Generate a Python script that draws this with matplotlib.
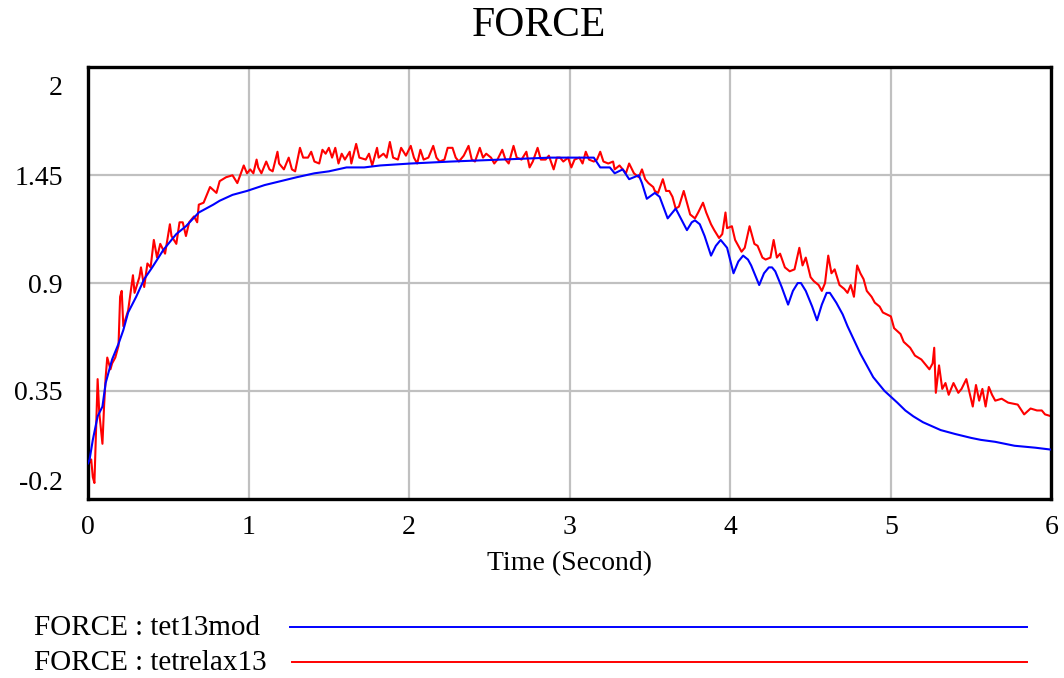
import matplotlib
matplotlib.use("Agg")
import matplotlib.pyplot as plt
import matplotlib.transforms as mtransforms
from matplotlib.lines import Line2D

plt.rcParams['font.family'] = ['Liberation Serif', 'DejaVu Serif']

# FORCE : tet13mod (blue)
mod_t = [0.00, 0.01, 0.03, 0.06, 0.09, 0.11, 0.15, 0.19, 0.22, 0.25, 0.30, 0.35,
         0.40, 0.47, 0.55, 0.61, 0.69, 0.78, 0.82, 0.90, 0.99, 1.10, 1.20, 1.30,
         1.41, 1.50, 1.61, 1.72, 1.82, 2.01, 2.26, 2.57, 2.88, 3.15, 3.19, 3.25,
         3.28, 3.33, 3.37, 3.43, 3.45, 3.48, 3.53, 3.56, 3.61, 3.66, 3.73, 3.76,
         3.78, 3.81, 3.84, 3.88, 3.91, 3.94, 3.98, 4.02, 4.05, 4.08, 4.11, 4.13,
         4.16, 4.18, 4.21, 4.24, 4.26, 4.28, 4.32, 4.36, 4.39, 4.42, 4.44, 4.47,
         4.51, 4.54, 4.57, 4.60, 4.62, 4.66, 4.70, 4.73, 4.77, 4.81, 4.85, 4.89,
         4.93, 4.96, 5.00, 5.04, 5.09, 5.14, 5.20, 5.31, 5.40, 5.50, 5.56, 5.65,
         5.77, 5.90, 6.00]
mod_v = [-0.02, 0.00, 0.10, 0.22, 0.27, 0.39, 0.51, 0.59, 0.66, 0.75, 0.83, 0.92,
         0.98, 1.07, 1.15, 1.19, 1.26, 1.30, 1.32, 1.35, 1.37, 1.40, 1.42, 1.44,
         1.46, 1.47, 1.49, 1.49, 1.50, 1.51, 1.52, 1.53, 1.54, 1.54, 1.49, 1.49,
         1.46, 1.48, 1.43, 1.45, 1.41, 1.33, 1.36, 1.34, 1.23, 1.28, 1.17, 1.21,
         1.22, 1.20, 1.14, 1.04, 1.09, 1.12, 1.08, 0.95, 1.01, 1.04, 1.02, 0.99,
         0.93, 0.89, 0.95, 0.98, 0.98, 0.96, 0.88, 0.79, 0.86, 0.90, 0.90, 0.86,
         0.78, 0.71, 0.79, 0.85, 0.85, 0.80, 0.74, 0.68, 0.61, 0.54, 0.48, 0.42,
         0.38, 0.35, 0.32, 0.29, 0.25, 0.22, 0.19, 0.15, 0.13, 0.11, 0.10, 0.09,
         0.07, 0.06, 0.05]

# FORCE : tetrelax13 (red)
rel_t = [0.00, 0.02, 0.03, 0.04, 0.05, 0.06, 0.07, 0.09, 0.10, 0.11, 0.12, 0.14,
         0.15, 0.17, 0.19, 0.20, 0.21, 0.22, 0.25, 0.27, 0.28, 0.29, 0.32, 0.33,
         0.35, 0.37, 0.39, 0.41, 0.43, 0.45, 0.48, 0.51, 0.52, 0.55, 0.57, 0.59,
         0.61, 0.63, 0.66, 0.68, 0.69, 0.72, 0.76, 0.80, 0.82, 0.86, 0.90, 0.93,
         0.97, 0.99, 1.01, 1.03, 1.05, 1.06, 1.08, 1.11, 1.13, 1.15, 1.18, 1.19,
         1.22, 1.25, 1.27, 1.29, 1.32, 1.34, 1.37, 1.39, 1.41, 1.44, 1.46, 1.48,
         1.50, 1.52, 1.54, 1.56, 1.58, 1.60, 1.63, 1.64, 1.67, 1.69, 1.73, 1.75,
         1.77, 1.80, 1.81, 1.84, 1.86, 1.88, 1.90, 1.93, 1.95, 1.98, 2.01, 2.03,
         2.05, 2.07, 2.09, 2.12, 2.15, 2.17, 2.19, 2.22, 2.24, 2.27, 2.29, 2.31,
         2.34, 2.37, 2.39, 2.41, 2.44, 2.46, 2.48, 2.51, 2.53, 2.55, 2.58, 2.60,
         2.62, 2.65, 2.67, 2.70, 2.73, 2.75, 2.77, 2.80, 2.82, 2.85, 2.87, 2.90,
         2.92, 2.94, 2.96, 2.99, 3.01, 3.03, 3.06, 3.08, 3.10, 3.12, 3.15, 3.17,
         3.19, 3.21, 3.24, 3.27, 3.28, 3.31, 3.33, 3.35, 3.37, 3.40, 3.43, 3.45,
         3.47, 3.49, 3.52, 3.53, 3.55, 3.58, 3.60, 3.62, 3.64, 3.66, 3.68, 3.71,
         3.73, 3.75, 3.78, 3.80, 3.83, 3.85, 3.88, 3.90, 3.93, 3.95, 3.97, 3.98,
         4.01, 4.03, 4.05, 4.07, 4.09, 4.12, 4.15, 4.17, 4.20, 4.22, 4.25, 4.27,
         4.29, 4.31, 4.34, 4.37, 4.40, 4.43, 4.45, 4.47, 4.50, 4.52, 4.55, 4.57,
         4.59, 4.61, 4.63, 4.65, 4.68, 4.71, 4.73, 4.75, 4.77, 4.79, 4.81, 4.83,
         4.85, 4.88, 4.90, 4.93, 4.95, 5.00, 5.02, 5.06, 5.08, 5.12, 5.15, 5.19,
         5.24, 5.26, 5.27, 5.28, 5.30, 5.32, 5.34, 5.36, 5.39, 5.42, 5.44, 5.47,
         5.49, 5.51, 5.53, 5.55, 5.57, 5.59, 5.61, 5.63, 5.65, 5.69, 5.73, 5.79,
         5.83, 5.87, 5.91, 5.94, 5.96, 6.00]
rel_v = [-0.03, 0.00, -0.09, -0.12, 0.15, 0.41, 0.24, 0.08, 0.27, 0.42, 0.52, 0.46,
         0.49, 0.52, 0.58, 0.83, 0.86, 0.68, 0.76, 0.88, 0.94, 0.85, 0.93, 0.98,
         0.88, 1.00, 0.98, 1.12, 1.03, 1.10, 1.05, 1.20, 1.14, 1.10, 1.21, 1.21,
         1.14, 1.21, 1.24, 1.21, 1.30, 1.31, 1.39, 1.36, 1.42, 1.44, 1.45, 1.41,
         1.50, 1.46, 1.48, 1.46, 1.53, 1.49, 1.46, 1.52, 1.48, 1.47, 1.57, 1.51,
         1.48, 1.54, 1.48, 1.47, 1.59, 1.54, 1.54, 1.57, 1.52, 1.51, 1.58, 1.56,
         1.59, 1.54, 1.59, 1.51, 1.56, 1.53, 1.57, 1.51, 1.61, 1.54, 1.53, 1.56,
         1.50, 1.59, 1.54, 1.56, 1.54, 1.62, 1.54, 1.53, 1.59, 1.55, 1.60, 1.54,
         1.51, 1.58, 1.53, 1.54, 1.60, 1.54, 1.52, 1.53, 1.59, 1.59, 1.54, 1.52,
         1.55, 1.60, 1.53, 1.52, 1.59, 1.54, 1.56, 1.54, 1.51, 1.53, 1.58, 1.53,
         1.51, 1.60, 1.54, 1.53, 1.57, 1.49, 1.52, 1.59, 1.53, 1.53, 1.55, 1.48,
         1.54, 1.54, 1.52, 1.54, 1.49, 1.53, 1.54, 1.51, 1.57, 1.53, 1.52, 1.53,
         1.57, 1.52, 1.51, 1.52, 1.48, 1.50, 1.48, 1.46, 1.51, 1.46, 1.44, 1.48,
         1.43, 1.41, 1.39, 1.37, 1.36, 1.43, 1.37, 1.37, 1.34, 1.28, 1.29, 1.37,
         1.31, 1.25, 1.23, 1.26, 1.31, 1.26, 1.20, 1.17, 1.13, 1.15, 1.26, 1.18,
         1.19, 1.12, 1.09, 1.06, 1.08, 1.19, 1.10, 1.09, 1.03, 1.02, 1.03, 1.12,
         1.03, 1.05, 0.98, 0.96, 0.97, 1.08, 0.99, 1.03, 0.93, 0.91, 0.89, 0.86,
         0.90, 1.04, 0.95, 0.97, 0.89, 0.87, 0.85, 0.89, 0.83, 0.99, 0.95, 0.92,
         0.86, 0.83, 0.80, 0.78, 0.75, 0.73, 0.67, 0.64, 0.60, 0.57, 0.53, 0.51,
         0.46, 0.49, 0.57, 0.34, 0.48, 0.36, 0.39, 0.33, 0.39, 0.34, 0.36, 0.41,
         0.34, 0.27, 0.38, 0.30, 0.36, 0.27, 0.37, 0.33, 0.30, 0.31, 0.29, 0.28,
         0.23, 0.26, 0.25, 0.25, 0.23, 0.22]

x_ticks = [0, 1, 2, 3, 4, 5, 6]
y_ticks = [-0.2, 0.35, 0.9, 1.45, 2]
y_labels = ['-0.2', '0.35', '0.9', '1.45', '2']

fig = plt.figure(figsize=(10.64, 6.78), dpi=100)
ax = fig.add_axes([0.0827, 0.2645, 0.9055, 0.636])

ax.plot(mod_t, mod_v, color='#0000ff', lw=1.5, zorder=3)
ax.plot(rel_t, rel_v, color='#ff0000', lw=1.5, zorder=2)

ax.set_xlim(0, 6)
ax.set_ylim(-0.2, 2)
ax.set_xticks(x_ticks)
ax.set_yticks(y_ticks)
ax.set_yticklabels(y_labels)
ax.grid(True, color='#c0c0c0', lw=1.6)
ax.tick_params(length=0, labelsize=20, pad=12)
ax.tick_params(axis='y', pad=18)
for s in ax.spines.values():
    s.set_linewidth(2.4)
    s.set_color('black')

# end labels sit slightly inside the frame
labs = ax.get_yticklabels()
labs[0].set_transform(labs[0].get_transform() +
                      mtransforms.ScaledTranslation(0, 18 / 100, fig.dpi_scale_trans))
labs[-1].set_transform(labs[-1].get_transform() +
                       mtransforms.ScaledTranslation(0, -18 / 100, fig.dpi_scale_trans))

fig.text(539 / 1064, 1 - 26 / 678, 'FORCE', fontsize=30, ha='center', va='center')
ax.set_xlabel('Time (Second)', fontsize=20, labelpad=8)

# legend below the chart
fig.text(34 / 1064, 1 - 628 / 678, 'FORCE : tet13mod', fontsize=21, va='center', ha='left')
fig.text(34 / 1064, 1 - 663 / 678, 'FORCE : tetrelax13', fontsize=21, va='center', ha='left')
fig.add_artist(Line2D([290 / 1064, 1027 / 1064], [1 - 627 / 678, 1 - 627 / 678],
                      color='#0000ff', lw=1.4))
fig.add_artist(Line2D([292 / 1064, 1027 / 1064], [1 - 662 / 678, 1 - 662 / 678],
                      color='#ff0000', lw=1.4))

fig.savefig('out.png', dpi=100)
